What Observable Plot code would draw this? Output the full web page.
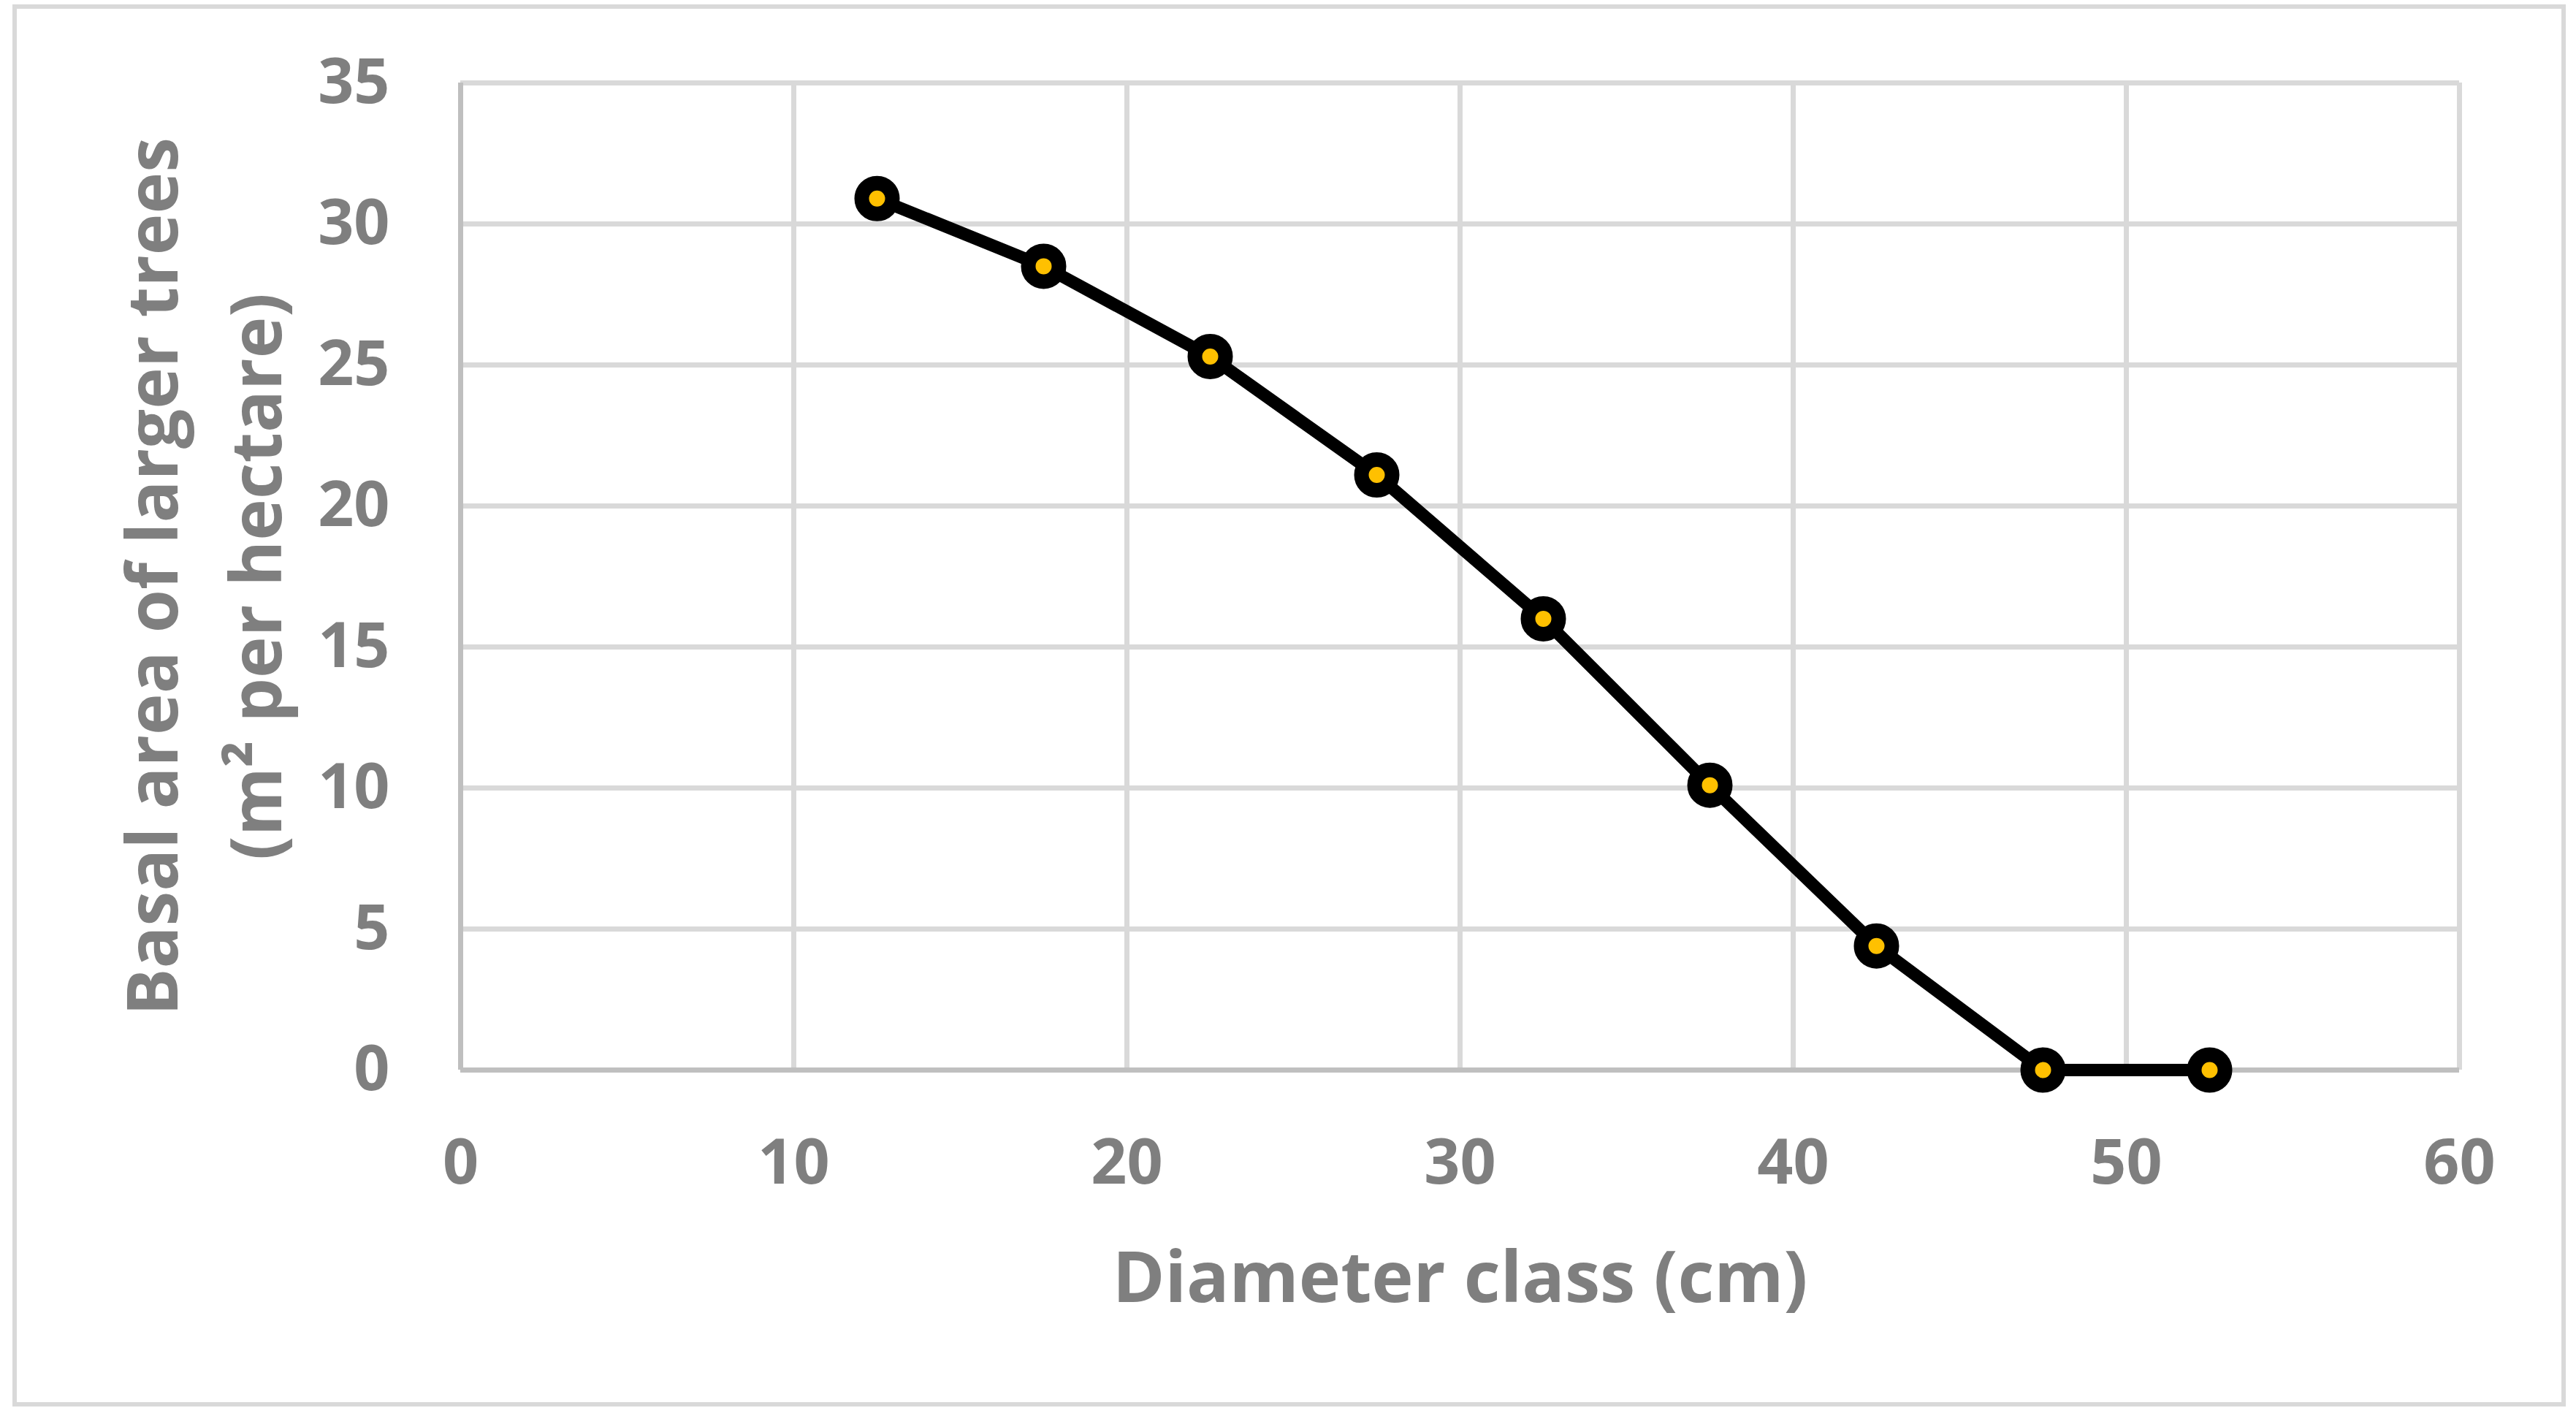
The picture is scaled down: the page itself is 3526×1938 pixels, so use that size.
<!DOCTYPE html>
<html><head><meta charset="utf-8">
<script src="https://cdn.jsdelivr.net/npm/d3@7"></script>
<script src="https://cdn.jsdelivr.net/npm/@observablehq/plot@0.6"></script>
<style>
html,body{margin:0;padding:0;background:#fff;}
#wrap{position:relative;width:3526px;height:1938px;overflow:hidden;}
#border{position:absolute;left:17px;top:6px;width:3495px;height:1919px;border:6px solid #d9d9d9;box-sizing:border-box;pointer-events:none;}
#chart svg{display:block;}
</style></head><body>
<div id="wrap"><div id="chart"></div><div id="border"></div></div>
<script>
const diameterClass = [12.5, 17.5, 22.5, 27.5, 32.5, 37.5, 42.5, 47.5, 52.5];
const basalArea = [30.9, 28.5, 25.3, 21.1, 16.0, 10.1, 4.4, 0, 0];
const xTicks = [0, 10, 20, 30, 40, 50, 60];
const yTicks = [0, 5, 10, 15, 20, 25, 30, 35];
const xTitle = "Diameter class (cm)";
const yTitleLines = ["Basal area of larger trees", "(m² per hectare)"];

const data = diameterClass.map((d, i) => ({x: d, y: basalArea[i]}));
const font = "'Open Sans', sans-serif";
const gray = "#7f7f7f";

const chart = Plot.plot({
  width: 3526, height: 1938,
  marginLeft: 630, marginRight: 160, marginTop: 113, marginBottom: 474,
  style: {fontFamily: font, background: "white", overflow: "visible"},
  x: {domain: [0, 60], ticks: xTicks},
  y: {domain: [0, 35], ticks: yTicks},
  marks: [
    Plot.gridX(xTicks, {stroke: "#d9d9d9", strokeOpacity: 1, strokeWidth: 7}),
    Plot.gridY(yTicks, {stroke: "#d9d9d9", strokeOpacity: 1, strokeWidth: 7}),
    Plot.ruleX([0], {stroke: "#bfbfbf", strokeWidth: 7}),
    Plot.ruleY([0], {stroke: "#bfbfbf", strokeWidth: 7}),
    Plot.axisX(xTicks, {tickSize: 0, tickPadding: 94, fontSize: 86, fontWeight: "bold", fill: gray, label: null}),
    Plot.axisY(yTicks, {tickSize: 0, tickPadding: 97, fontSize: 86, fontWeight: "bold", fill: gray, label: null}),
    Plot.text([xTitle], {text: d => d, frameAnchor: "bottom", textAnchor: "middle", dy: 286, lineAnchor: "middle", fontSize: 97, fontWeight: "bold", fill: gray}),
    Plot.text([yTitleLines.join("\n")], {text: d => d, frameAnchor: "left", textAnchor: "middle", rotate: -90, dx: -362, lineAnchor: "middle", lineHeight: 1.48, fontSize: 96, fontWeight: "bold", fill: gray}),
    Plot.line(data, {x: "x", y: "y", stroke: "black", strokeWidth: 17, strokeLinejoin: "round"}),
    Plot.dot(data, {x: "x", y: "y", r: 21, fill: "#FFC000", stroke: "black", strokeWidth: 20})
  ]
});
document.getElementById("chart").appendChild(chart);
</script>
</body></html>
